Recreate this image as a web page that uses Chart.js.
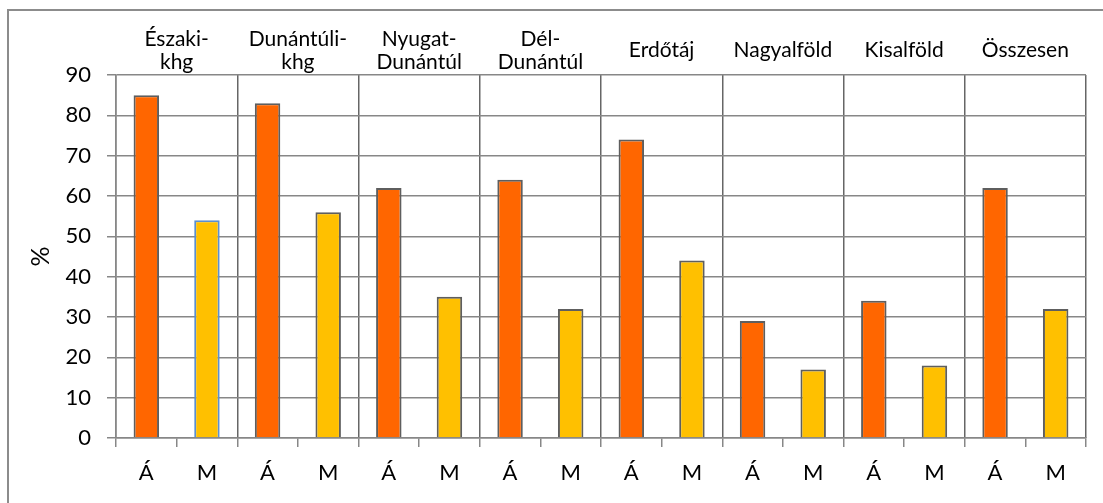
<!DOCTYPE html>
<html>
<head>
<meta charset="utf-8">
<script src="https://cdn.jsdelivr.net/npm/chart.js@4/dist/chart.umd.min.js"></script>
<style>
  html, body { margin: 0; padding: 0; background: #fff; }
  #wrap { position: relative; width: 1103px; height: 503px; }
</style>
</head>
<body>
<div id="wrap"><canvas id="chart" width="1103" height="503"></canvas></div>
<script>
// ---- data ------------------------------------------------------------------
const GROUPS = [
  ['Északi-', 'khg'],
  ['Dunántúli-', 'khg'],
  ['Nyugat-', 'Dunántúl'],
  ['Dél-', 'Dunántúl'],
  'Erdőtáj',
  'Nagyalföld',
  'Kisalföld',
  'Összesen',
];
const SUB_LABELS = ['Á', 'M'];
const VALUES_A = [85, 83, 62, 64, 74, 29, 34, 62];
const VALUES_M = [54, 56, 35, 32, 44, 17, 18, 32];
const Y_MIN = 0, Y_MAX = 90, Y_STEP = 10;
const Y_TITLE = '%';

// ---- style -----------------------------------------------------------------
const FONT = 'Lato, Carlito, "Open Sans", sans-serif';
const ORANGE = '#FF6600';
const GOLD   = '#FFC000';
const BAR_EDGE = '#5e5e5e';
const BLUE_EDGE = '#5B8FD0';
const GRID = '#878787';
const SEP  = '#666666';

// interleave Á / M per group
const labels = [], values = [], fills = [], edges = [];
GROUPS.forEach((g, i) => {
  labels.push(SUB_LABELS[0], SUB_LABELS[1]);
  values.push(VALUES_A[i], VALUES_M[i]);
  fills.push(ORANGE, GOLD);
  edges.push(BAR_EDGE, i === 0 ? BLUE_EDGE : BAR_EDGE);
});

// outer frame of the chart object (runs off the right / bottom edge)
const framePlugin = {
  id: 'frame',
  beforeDraw(chart) {
    const c = chart.ctx;
    c.save();
    c.strokeStyle = '#8c8c8c';
    c.lineWidth = 2;
    c.strokeRect(8, 10, 1200, 600);
    c.restore();
  },
};

Chart.defaults.font.family = FONT;
Chart.defaults.color = '#000';

new Chart(document.getElementById('chart').getContext('2d'), {
  type: 'bar',
  data: {
    labels,
    datasets: [{
      data: values,
      backgroundColor: fills,
      borderColor: edges,
      borderWidth: 2,
      categoryPercentage: 1,
      barPercentage: 0.42,
    }],
  },
  plugins: [framePlugin],
  options: {
    responsive: false,
    animation: false,
    layout: { padding: { left: 8, right: 17, top: 0, bottom: 0 } },
    plugins: { legend: { display: false }, tooltip: { enabled: false } },
    scales: {
      x: {
        position: 'bottom',
        grid: { offset: true, drawOnChartArea: false, drawTicks: true, tickLength: 9, color: GRID, lineWidth: 1.5 },
        border: { display: true, color: GRID, width: 1.5 },
        ticks: { font: { size: 22 }, padding: 13, maxRotation: 0, autoSkip: false },
        afterFit(scale) { scale.height = 65; },
      },
      x2: {
        type: 'category',
        position: 'top',
        labels: GROUPS,
        grid: { offset: true, drawOnChartArea: true, drawTicks: false, color: SEP, lineWidth: 1.5 },
        border: { display: false },
        ticks: { font: { size: 21, lineHeight: 1.1 }, crossAlign: 'center', padding: 13, maxRotation: 0, autoSkip: false },
        afterFit(scale) { scale.height = 75; },
      },
      y: {
        min: Y_MIN, max: Y_MAX,
        grid: { color: GRID, lineWidth: 1.5, tickLength: 9 },
        border: { display: true, color: GRID, width: 1.5 },
        ticks: { stepSize: Y_STEP, font: { size: 22 }, padding: 16 },
        title: { display: true, text: Y_TITLE, font: { size: 25 }, padding: { top: 18, bottom: 0 } },
        afterFit(scale) { scale.width = 108; },
      },
    },
  },
});
</script>
</body>
</html>
